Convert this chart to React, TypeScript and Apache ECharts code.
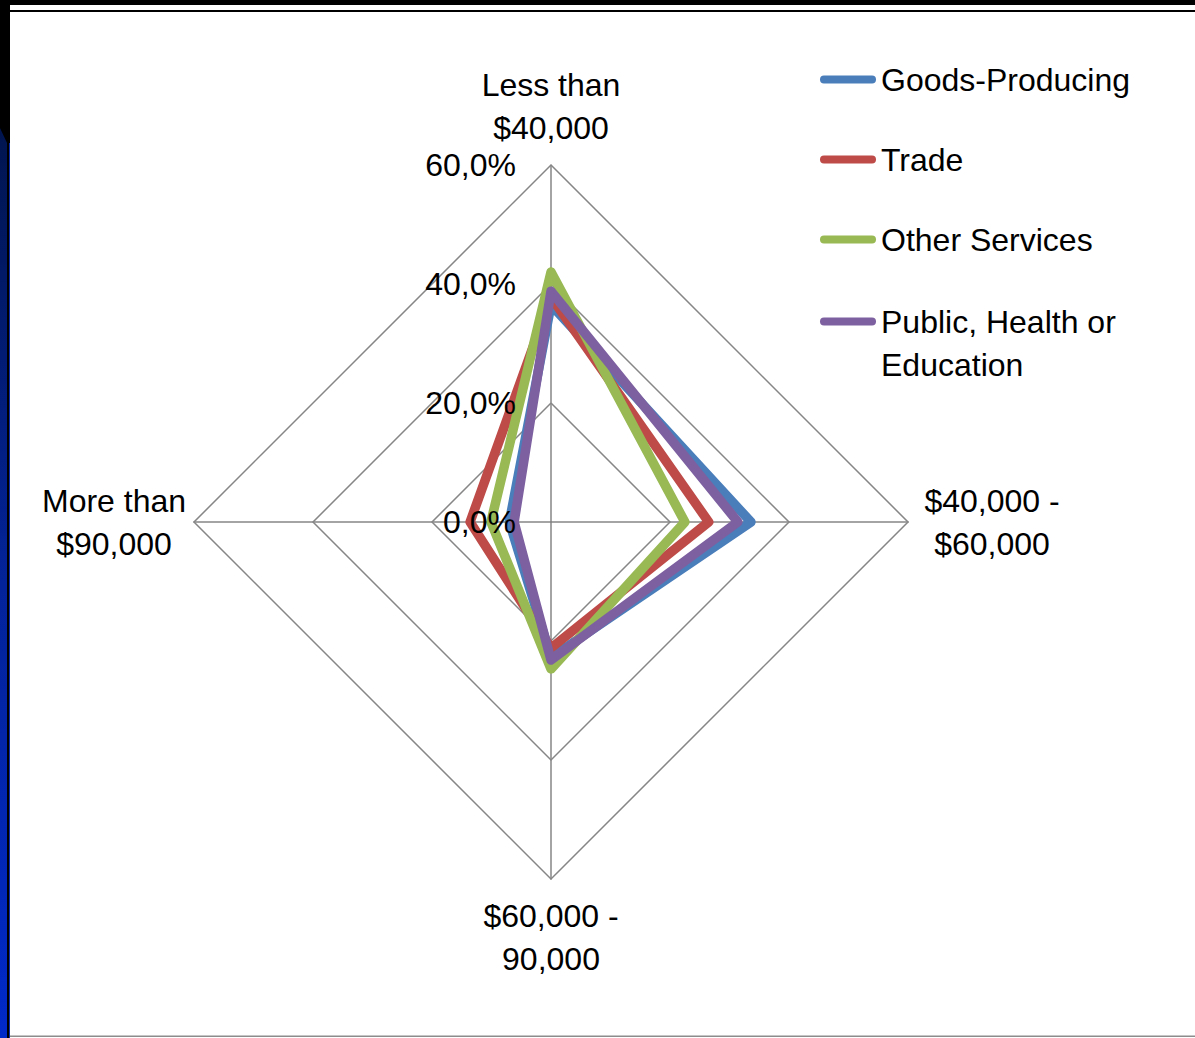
import React, { useEffect, useRef } from "react";
import * as echarts from "echarts";

const categories = ["Less than\n$40,000", "$40,000 -\n$60,000", "$60,000 -\n90,000", "More than\n$90,000"];
const seriesNames = ["Goods-Producing", "Trade", "Other Services", "Public, Health or Education"];
const goodsProducing = [36.5, 33.6, 22.8, 7.0];
const trade = [37.8, 26.5, 21.2, 13.6];
const otherServices = [42.0, 22.5, 24.7, 10.1];
const publicHealthEducation = [38.8, 31.4, 23.2, 6.2];
const tickValues = [0, 20, 40, 60];
const tickLabels = ["0,0%", "20,0%", "40,0%", "60,0%"];
const colors = ["#4a7ebb", "#be4b48", "#98b954", "#7d60a0"];

const FONT = "'Liberation Sans Narrow', 'Arial Narrow', 'Liberation Sans', sans-serif";

export default function App() {
  const ref = useRef<HTMLDivElement>(null);
  useEffect(() => {
    if (!ref.current) return;
    const chart = echarts.init(ref.current, undefined, { renderer: "svg" });
    // ECharts radar places indicators counter-clockwise; reorder so they read clockwise
    const order = [0, 3, 2, 1];
    const nameGaps = [16, 10, 15, 14];
    const allValues = [goodsProducing, trade, otherServices, publicHealthEducation];
    const iconPath = "path://M4,0 L52,0 A4,4 0 0 1 52,8 L4,8 A4,4 0 0 1 4,0 Z";
    const legendText = { fontSize: 32, fontFamily: FONT, color: "#000", lineHeight: 43 };
    const baseRadar = {
      center: [551, 522],
      radius: 357,
      shape: "polygon",
      splitNumber: 3,
      startAngle: 90,
    };
    const option: any = {
      animation: false,
      backgroundColor: "#fff",
      graphic: [
        { type: "rect", shape: { x: 0, y: 0, width: 1195, height: 5 }, style: { fill: "#000" }, silent: true },
        { type: "rect", shape: { x: 10, y: 10, width: 1185, height: 2 }, style: { fill: "#000" }, silent: true },
        { type: "rect", shape: { x: 0, y: 0, width: 10, height: 1038 }, style: { fill: "#000" }, silent: true },
        {
          type: "polygon",
          shape: { points: [[0, 128], [7, 143], [7, 1038], [0, 1038]] },
          style: {
            fill: new echarts.graphic.LinearGradient(0, 0, 0, 1, [
              { offset: 0, color: "#00154f" },
              { offset: 0.5, color: "#03239a" },
              { offset: 1, color: "#0029c8" },
            ]),
          },
          silent: true,
        },
        { type: "rect", shape: { x: 9, y: 143, width: 1, height: 895 }, style: { fill: "#0a2aa8" }, silent: true },
        { type: "rect", shape: { x: 10, y: 1035.5, width: 1185, height: 1.5 }, style: { fill: "#8c8c8c" }, silent: true },
      ],
      legend: [
        {
          orient: "vertical",
          left: 820,
          top: 58,
          padding: 0,
          itemWidth: 56,
          itemHeight: 8,
          itemGap: 37,
          icon: iconPath,
          data: seriesNames.slice(0, 3),
          textStyle: legendText,
          selectedMode: false,
        },
        {
          orient: "vertical",
          left: 820,
          top: 257,
          padding: 0,
          itemWidth: 56,
          itemHeight: 8,
          icon: iconPath,
          data: [seriesNames[3]],
          // leading empty line keeps the icon level with the first text line
          formatter: () => "\nPublic, Health or\nEducation",
          textStyle: legendText,
          selectedMode: false,
        },
      ],
      radar: [
        {
          ...baseRadar,
          z: 0,
          indicator: order.map((i, k) => ({
            name: categories[i],
            min: 0,
            max: 60,
            nameGap: nameGaps[k],
          })),
          axisName: {
            formatter: (name: string) =>
              name
                .split("\n")
                .map((l) => `{c|${l}}`)
                .join("\n"),
            rich: {
              c: { width: 140, align: "center", fontSize: 32, lineHeight: 43, fontFamily: FONT, color: "#000" },
            },
          },
          axisLine: { lineStyle: { color: "#868686", width: 1.5 } },
          splitLine: { lineStyle: { color: "#868686", width: 1.5 } },
          splitArea: { show: false },
          axisTick: { show: false },
          axisLabel: { show: false },
        },
        {
          // same scale, drawn above the series so the tick labels sit on top of the lines
          ...baseRadar,
          z: 5,
          axisName: { show: false },
          indicator: order.map((i, k) => ({
            name: categories[i],
            min: 0,
            max: 60,
            axisLabel:
              k === 0
                ? {
                    show: true,
                    fontSize: 32,
                    fontFamily: FONT,
                    color: "#000",
                    margin: 35,
                    padding: [6, 0, 0, 0],
                    formatter: (v: number) => tickLabels[tickValues.indexOf(v)] ?? "",
                  }
                : { show: false },
          })),
          axisLine: { show: false },
          splitLine: { show: false },
          splitArea: { show: false },
          axisTick: { show: false },
          axisLabel: { show: false },
        },
      ],
      series: [
        {
          type: "radar",
          radarIndex: 0,
          symbol: "none",
          data: seriesNames.map((n, s) => ({
            name: n,
            value: order.map((i) => allValues[s][i]),
            itemStyle: { color: colors[s] },
            lineStyle: { color: colors[s], width: 9.5, join: "round", cap: "round" },
          })),
        },
      ],
    };
    chart.setOption(option);
    return () => chart.dispose();
  }, []);
  return <div ref={ref} style={{ position: "fixed", left: 0, top: 0, width: 1195, height: 1038 }} />;
}
